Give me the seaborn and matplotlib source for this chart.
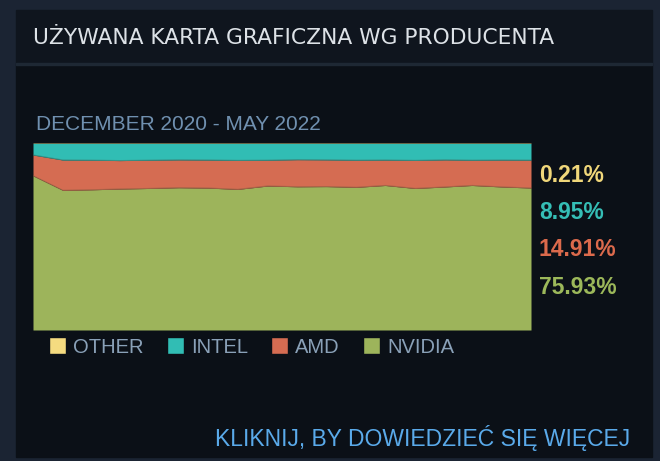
import pandas as pd
import matplotlib.pyplot as plt
import seaborn as sns
from matplotlib.patches import Rectangle, Patch

# Dane (udzial procentowy, grudzien 2020 - maj 2022)
months = pd.date_range("2020-12-01", "2022-05-01", freq="MS")
nvidia = [82.5, 74.7, 75.0, 75.4, 75.7, 76.1, 75.9, 75.2, 77.0,
          76.6, 76.7, 76.3, 77.3, 75.7, 76.5, 77.3, 76.5, 75.93]
amd = [11.1, 16.2, 15.8, 15.2, 15.1, 14.9, 15.0, 15.5, 13.8,
       14.5, 14.3, 14.5, 13.6, 15.0, 14.5, 13.5, 14.4, 14.91]
intel = [6.2, 8.9, 9.0, 9.2, 9.0, 8.8, 8.9, 9.1, 9.0,
         8.7, 8.8, 9.0, 8.9, 9.1, 8.8, 9.0, 8.9, 8.95]
other = [0.2, 0.2, 0.2, 0.2, 0.2, 0.2, 0.2, 0.2, 0.2,
         0.2, 0.2, 0.2, 0.2, 0.2, 0.2, 0.2, 0.2, 0.21]

series_names = ["NVIDIA", "AMD", "INTEL", "OTHER"]
legend_order = ["OTHER", "INTEL", "AMD", "NVIDIA"]
colors = {"NVIDIA": "#9db45b", "AMD": "#d56c52", "INTEL": "#31bdb4", "OTHER": "#f5db80"}
label_colors = {"NVIDIA": "#9cb85a", "AMD": "#dc6a4c", "INTEL": "#35beb6", "OTHER": "#f0d77a"}

df = pd.DataFrame({"month": months, "NVIDIA": nvidia, "AMD": amd,
                   "INTEL": intel, "OTHER": other})

sns.set_theme(style="dark")
plt.rcParams["font.family"] = ["Liberation Sans", "DejaVu Sans"]

W, H = 660, 461
fig = plt.figure(figsize=(W / 100, H / 100), dpi=100)
fig.patch.set_facecolor("#1b2433")


def fx(x):
    return x / W


def fy(y):
    return 1 - y / H


# tlo panelu
fig.patches.append(Rectangle((fx(16), fy(457)), fx(636), (457 - 64) / H,
                             transform=fig.transFigure, color="#0b1017", zorder=-2))
fig.patches.append(Rectangle((fx(16), fy(64)), fx(636), 54 / H,
                             transform=fig.transFigure, color="#0f151e", zorder=-2))
fig.patches.append(Rectangle((fx(16), fy(65)), fx(636), 2 / H,
                             transform=fig.transFigure, color="#1e2834", zorder=-1))

fig.text(fx(33), fy(38), "UŻYWANA KARTA GRAFICZNA WG PRODUCENTA", color="#dde2e7",
         fontsize=15.7, va="center", ha="left", family=["DejaVu Sans"])
fig.text(fx(36), fy(124), "DECEMBER 2020 - MAY 2022", color="#7090b0",
         fontsize=15, va="center", ha="left")

# wykres warstwowy
ax = fig.add_axes([fx(33), fy(330), fx(498), 187 / H])
ax.set_zorder(5)
ax.stackplot(df["month"], [df[n] for n in series_names],
             colors=[colors[n] for n in series_names], linewidth=0)
cum = df[series_names].cumsum(axis=1)
for n, c in [("NVIDIA", "#7d5a3c"), ("AMD", "#3f6a5e")]:
    sns.lineplot(x=df["month"], y=cum[n], ax=ax, color=c, linewidth=0.8, alpha=0.5)
ax.set_xlim(df["month"].iloc[0], df["month"].iloc[-1])
ax.set_ylim(0, 100)
ax.set_xticks([])
ax.set_yticks([])
ax.set_xlabel("")
ax.set_ylabel("")
ax.set_facecolor("#0b1017")
for s in ax.spines.values():
    s.set_visible(False)

# etykiety ostatnich wartosci
last = df.iloc[-1]
for n, y in zip(legend_order, [175, 212, 249, 287]):
    fig.text(fx(539), fy(y), f"{last[n]:.2f}%", color=label_colors[n],
             fontsize=16.5, fontweight="bold", va="center", ha="left")

handles = [Patch(facecolor=colors[n], edgecolor="#0b1017", label=n) for n in legend_order]
leg = fig.legend(handles=handles, loc="center left", ncol=4,
                 bbox_to_anchor=(fx(49), fy(347)), frameon=False,
                 fontsize=14.5, handlelength=0.85, handleheight=0.85,
                 handletextpad=0.35, columnspacing=1.15, borderpad=0, borderaxespad=0)
for t in leg.get_texts():
    t.set_color("#8aa1b8")

fig.text(fx(630), fy(438), "KLIKNIJ, BY DOWIEDZIEĆ SIĘ WIĘCEJ", color="#5aaaea",
         fontsize=16.5, va="center", ha="right")

fig.savefig("out.png", dpi=100, facecolor=fig.get_facecolor())
